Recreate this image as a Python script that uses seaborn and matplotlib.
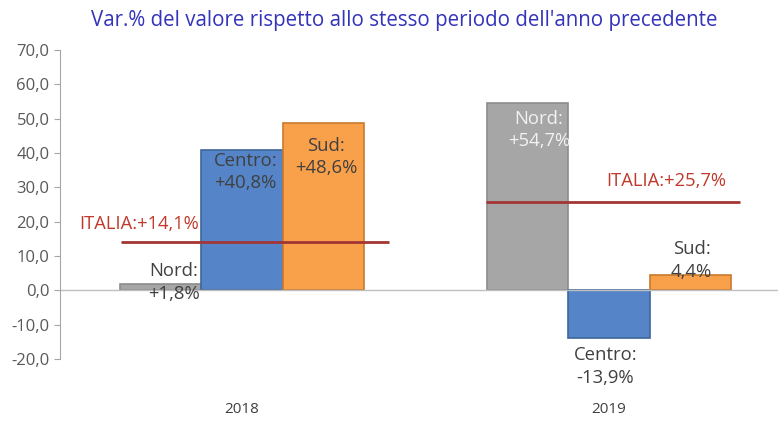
import pandas as pd
import seaborn as sns
import matplotlib.pyplot as plt

years = ["2018", "2019"]
regions = ["Nord", "Centro", "Sud"]
nord = [1.8, 54.7]
centro = [40.8, -13.9]
sud = [48.6, 4.4]
italia = [14.1, 25.7]
yticks = [-20, -10, 0, 10, 20, 30, 40, 50, 60, 70]

colors = {"Nord": "#A6A6A6", "Centro": "#5585C8", "Sud": "#F9A04A"}
edges = {"Nord": "#8C8C8C", "Centro": "#3E6699", "Sud": "#C97A2E"}

df = pd.DataFrame({
    "anno": years * 3,
    "area": ["Nord"] * 2 + ["Centro"] * 2 + ["Sud"] * 2,
    "valore": nord + centro + sud,
})

sns.set_style("white")
plt.rcParams["font.family"] = ["Open Sans", "DejaVu Sans"]

fig = plt.figure(figsize=(7.78, 4.21), dpi=100)
ax = fig.add_axes([0.0771, 0.1473, 0.9229, 0.734])

sns.barplot(data=df, x="anno", y="valore", hue="area", hue_order=regions,
            order=years, palette=colors, width=0.665, ax=ax, legend=False,
            saturation=1)

# bars come out hue by hue: Nord(2018, 2019), Centro(...), Sud(...)
bars = {}
for i, reg in enumerate(regions):
    for j, yr in enumerate(years):
        p = ax.patches[i * len(years) + j]
        p.set_edgecolor(edges[reg])
        p.set_linewidth(1.2)
        bars[(reg, j)] = p

ax.set_ylim(-20, 70)
ax.set_xlim(-0.496, 1.46)
ax.set_yticks(yticks)
ax.set_yticklabels([f"{v:.1f}".replace(".", ",") for v in yticks])
ax.axhline(0, color="#BFBFBF", lw=1, zorder=1)

for s in ["top", "right", "bottom"]:
    ax.spines[s].set_visible(False)
ax.spines["left"].set_color("#A6A6A6")
ax.tick_params(axis="y", length=4, color="#A6A6A6", labelsize=12,
               labelcolor="#595959", left=True)
ax.tick_params(axis="x", length=0, pad=31, labelsize=11, labelcolor="#404040")
ax.set_xlabel("")
ax.set_ylabel("")

# ITALIA reference lines
italia_span = [(-0.33, 0.40), (-0.335, 0.357)]
italia_text_x = [-0.28, 0.155]
italia_text_y = [19.2, 31.8]
for j, v in enumerate(italia):
    ax.hlines(v, j + italia_span[j][0], j + italia_span[j][1],
              color="#A33535", lw=2, zorder=4)
    ax.text(j + italia_text_x[j], italia_text_y[j],
            "ITALIA:+" + f"{v:.1f}".replace(".", ",") + "%",
            color="#C0392B", fontsize=13.2, ha="center", va="center")


def fmt(v, sign=True):
    s = f"{v:.1f}".replace(".", ",")
    if sign and v > 0:
        s = "+" + s
    return s + "%"


vals = {"Nord": nord, "Centro": centro, "Sud": sud}
# label placement: (dx from bar centre, y, colour, show plus sign)
label_pos = {
    ("Nord", 0): (0.035, 2.3, "#404040", True),
    ("Centro", 0): (0.01, 34.4, "#404040", True),
    ("Sud", 0): (0.008, 38.8, "#404040", True),
    ("Nord", 1): (0.03, 46.6, "#F2F2F2", True),
    ("Centro", 1): (-0.01, -22.2, "#404040", True),
    ("Sud", 1): (0.003, 8.7, "#404040", False),
}
for (reg, j), (dx, y, col, sign) in label_pos.items():
    p = bars[(reg, j)]
    cx = p.get_x() + p.get_width() / 2
    ax.text(cx + dx, y, f"{reg}:\n{fmt(vals[reg][j], sign)}", ha="center",
            va="center", fontsize=13.3, color=col, linespacing=1.3, zorder=5,
            clip_on=False)

fig.text(0.52, 0.952, "Var.% del valore rispetto allo stesso periodo dell'anno precedente",
         ha="center", va="center", fontsize=14.8, color="#3333BB")

fig.savefig("out.png", dpi=100)
